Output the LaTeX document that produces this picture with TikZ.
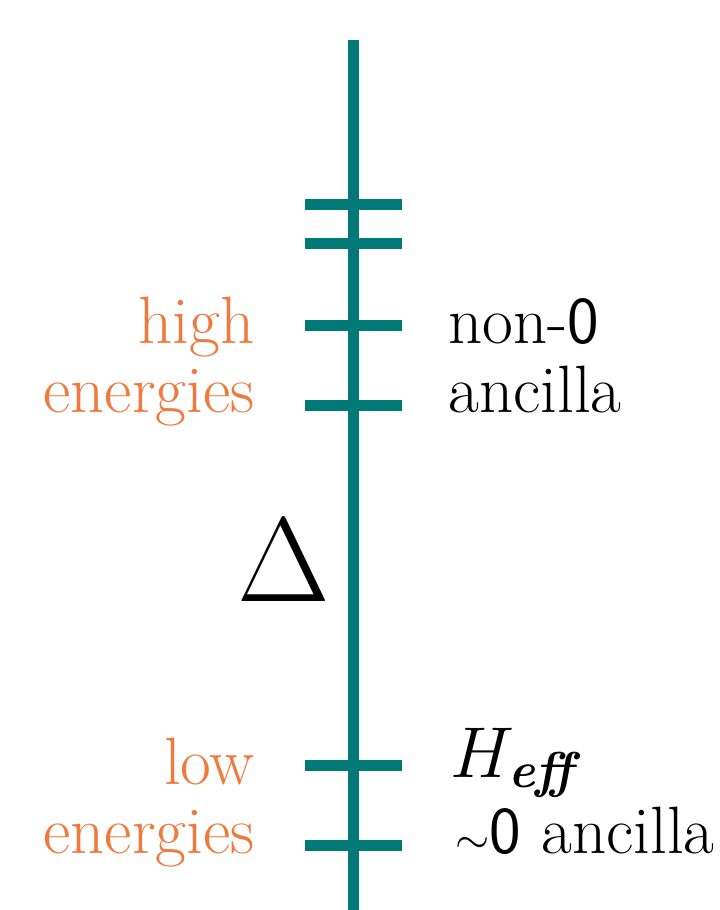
\RequirePackage{fix-cm}
\documentclass[tikz,border=0pt]{standalone}
\usepackage{amsmath, amssymb}
\usepackage{xcolor}
\usepackage{tikz}
\usetikzlibrary{positioning}
\definecolor{levelteal}{RGB}{0,121,119}
\definecolor{energyorange}{RGB}{240,122,62}

\begin{document}
\begin{tikzpicture}[x=0.5pt, y=-0.5pt,
  level/.style={draw=levelteal, line width=5.5pt},
  eng/.style={energyorange, font=\fontsize{33.5}{36}\selectfont, anchor=base east, inner sep=0pt},
  lab/.style={black, font=\fontsize{33.5}{36}\selectfont, anchor=base west, inner sep=0pt}]
\useasboundingbox (0,0) rectangle (719,910);

%% energy axis
\coordinate (axtop) at (353,40);
\coordinate (axbot) at (353,910);
\draw[level] (axtop) -- (axbot);

%% levels
\foreach \name/\y in {lvA/204.5, lvB/243.5, lvC/325, lvD/405, lvE/765, lvF/845} {
  \coordinate (\name w) at (305,\y);
  \coordinate (\name e) at (402,\y);
  \draw[level] (\name w) -- (\name e);
}

%% high energies
\node[eng] (high) at (255,343) {high};
\node[eng] (highen) at (255,412) {energies};
\node[lab] (nonzero) at (448,343) {non-\textsf{0}};
\node[lab] (nonanc) at (448,412) {ancilla};

%% gap
\node[font=\fontsize{60}{60}\selectfont, inner sep=0pt] (gap) at (284,561) {$\Delta$};

%% low energies
\node[eng] (low) at (255,784) {low};
\node[eng] (lowen) at (255,853) {energies};
\node[lab, font=\fontsize{36}{40}\selectfont] (heff) at (450,777) {$H_{\textit{\textbf{eff}}}$};
\node[lab] (zero) at (455,853) {{\fontsize{22}{22}\selectfont$\sim$}\textsf{0} ancilla};
\end{tikzpicture}
\end{document}
